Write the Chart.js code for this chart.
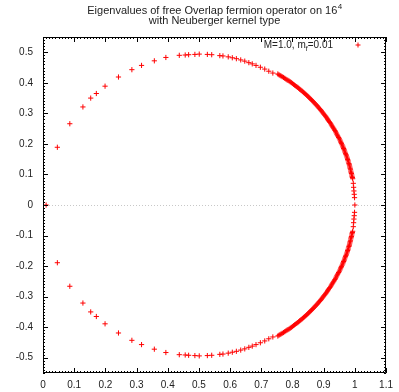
<!DOCTYPE html>
<html>
<head>
<meta charset="utf-8">
<script src="https://cdn.jsdelivr.net/npm/chart.js@4/dist/chart.umd.min.js"></script>
<style>
  html, body { margin: 0; padding: 0; background: #fff; }
  #wrap { width: 399px; height: 392px; }
</style>
</head>
<body>
<div id="wrap"><canvas id="c" width="399" height="392"></canvas></div>
<script>
// Overlap operator eigenvalues (Re, Im), lying on a circle centred near 0.5
const sparseX   = [0.046,0.086,0.128,0.153,0.171,0.199,0.242,0.285,0.316,0.357,0.394,0.437,0.456,0.467,0.487,0.501,
                   0.527,0.541,0.567,0.577,0.594,0.607,0.620,0.634,0.647,0.660,0.671,0.683,0.697,0.711,0.724,0.737];
const sparseUpY = [0.189,0.266,0.321,0.350,0.365,0.389,0.419,0.443,0.457,0.472,0.483,0.490,0.491,0.492,0.493,0.494,
                   0.493,0.492,0.489,0.488,0.485,0.482,0.479,0.475,0.471,0.466,0.462,0.457,0.451,0.445,0.438,0.432];
const sparseLoY = [-0.189,-0.266,-0.321,-0.350,-0.365,-0.389,-0.419,-0.443,-0.457,-0.472,-0.483,-0.490,-0.491,-0.492,-0.493,-0.494,
                   -0.493,-0.492,-0.489,-0.488,-0.485,-0.482,-0.479,-0.475,-0.471,-0.466,-0.462,-0.457,-0.451,-0.445,-0.438,-0.432];

const denseX   = [0.753,0.760,0.767,0.775,0.782,0.789,0.796,0.803,0.810,0.817,0.823,0.830,0.836,0.843,0.849,0.855,0.861,0.867,0.873,0.879,
                  0.884,0.890,0.895,0.900,0.906,0.911,0.915,0.920,0.925,0.929,0.934,0.938,0.942,0.946,0.950,0.954,0.957,0.961,0.964,0.967,
                  0.970,0.973,0.976,0.978,0.981,0.983,0.985,0.987,0.989,0.991,0.993,0.995,0.996,0.997,0.998,0.999];
const denseUpY = [0.429,0.424,0.420,0.415,0.410,0.406,0.401,0.395,0.390,0.385,0.379,0.374,0.368,0.362,0.356,0.350,0.344,0.338,0.331,0.325,
                  0.318,0.312,0.305,0.298,0.291,0.284,0.277,0.270,0.262,0.255,0.248,0.240,0.232,0.225,0.217,0.209,0.201,0.193,0.185,0.177,
                  0.169,0.161,0.153,0.145,0.136,0.128,0.120,0.111,0.103,0.094,0.086,0.071,0.058,0.046,0.035,0.024];
const denseLoY = [-0.429,-0.424,-0.420,-0.415,-0.410,-0.406,-0.401,-0.395,-0.390,-0.385,-0.379,-0.374,-0.368,-0.362,-0.356,-0.350,-0.344,-0.338,-0.331,-0.325,
                  -0.318,-0.312,-0.305,-0.298,-0.291,-0.284,-0.277,-0.270,-0.262,-0.255,-0.248,-0.240,-0.232,-0.225,-0.217,-0.209,-0.201,-0.193,-0.185,-0.177,
                  -0.169,-0.161,-0.153,-0.145,-0.136,-0.128,-0.120,-0.111,-0.103,-0.094,-0.086,-0.071,-0.058,-0.046,-0.035,-0.024];

// further eigenvalues packed between the ones above, along the right-hand arc
const packedX   = [0.7565,0.7635,0.771,0.7785,0.7855,0.7925,0.7995,0.8065,0.8135,0.820,0.8265,0.833,0.8395,0.846,0.852,0.858,0.864,
                   0.870,0.876,0.8815,0.887,0.8925,0.8975,0.903,0.9085,0.913,0.9175,0.9225,0.927,0.9315,0.936,0.940,0.944,0.948,
                   0.952,0.9555,0.959,0.9625,0.9655,0.9685,0.9715,0.9745,0.977,0.9795,0.982,0.984,0.986,0.988,0.990,0.992];
const packedUpY = [0.4265,0.422,0.4175,0.4125,0.408,0.4035,0.398,0.3925,0.3875,0.382,0.3765,0.371,0.365,0.359,0.353,0.347,0.341,
                   0.3345,0.328,0.3215,0.315,0.3085,0.3015,0.2945,0.2875,0.2805,0.2735,0.266,0.2585,0.2515,0.244,0.236,0.2285,0.221,
                   0.213,0.205,0.197,0.189,0.181,0.173,0.165,0.157,0.149,0.1405,0.132,0.124,0.1155,0.107,0.0985,0.090];
const packedLoY = [-0.4265,-0.422,-0.4175,-0.4125,-0.408,-0.4035,-0.398,-0.3925,-0.3875,-0.382,-0.3765,-0.371,-0.365,-0.359,-0.353,-0.347,-0.341,
                   -0.3345,-0.328,-0.3215,-0.315,-0.3085,-0.3015,-0.2945,-0.2875,-0.2805,-0.2735,-0.266,-0.2585,-0.2515,-0.244,-0.236,-0.2285,-0.221,
                   -0.213,-0.205,-0.197,-0.189,-0.181,-0.173,-0.165,-0.157,-0.149,-0.1405,-0.132,-0.124,-0.1155,-0.107,-0.0985,-0.090];

const realX = [0.01, 1.0];
const realY = [0, 0];

const xTicks = [0,0.1,0.2,0.3,0.4,0.5,0.6,0.7,0.8,0.9,1.0,1.1];
const xTickLabels = ['0','0.1','0.2','0.3','0.4','0.5','0.6','0.7','0.8','0.9','1','1.1'];
const yTicks = [-0.5,-0.4,-0.3,-0.2,-0.1,0,0.1,0.2,0.3,0.4,0.5];
const yTickLabels = ['-0.5','-0.4','-0.3','-0.2','-0.1','0','0.1','0.2','0.3','0.4','0.5'];

const titleLines = ['Eigenvalues of free Overlap fermion operator on 16', 'with Neuberger kernel type'];
const titleSup = '4';

const points = [];
const addPairs = (xs, ys) => xs.forEach((x, i) => points.push({ x: x, y: ys[i] }));
addPairs(realX, realY);
addPairs(sparseX, sparseUpY);
addPairs(sparseX, sparseLoY);
addPairs(denseX, denseUpY);
addPairs(denseX, denseLoY);
addPairs(packedX, packedUpY);
addPairs(packedX, packedLoY);

const FONT = '"Liberation Sans", Arial, sans-serif';
const TXT = '#222';

const framePlugin = {
  id: 'frame',
  beforeDatasetsDraw(chart) {
    const { ctx, chartArea: a, scales } = chart;
    const y0 = scales.y.getPixelForValue(0);
    ctx.save();
    ctx.strokeStyle = '#c8c8c8';
    ctx.lineWidth = 1;
    ctx.setLineDash([1, 2]);
    ctx.beginPath();
    ctx.moveTo(a.left, Math.round(y0) + 0.5);
    ctx.lineTo(a.right, Math.round(y0) + 0.5);
    ctx.stroke();
    ctx.restore();
  },
  afterDraw(chart) {
    const { ctx, chartArea: a, scales } = chart;
    const sx = scales.x, sy = scales.y;
    ctx.save();
    ctx.strokeStyle = '#000';
    ctx.lineWidth = 1;
    ctx.beginPath();
    ctx.rect(Math.round(a.left) + 0.5, Math.round(a.top) + 0.5,
             Math.round(a.right - a.left) - 1, Math.round(a.bottom - a.top) - 1);
    ctx.stroke();

    // inward ticks on all four sides: majors every 0.1, minors every 0.01
    ctx.beginPath();
    for (let i = 0; i <= 110; i++) {
      const px = Math.round(sx.getPixelForValue(i / 100)) + 0.5;
      const len = (i % 10 === 0) ? 5 : 2;
      ctx.moveTo(px, a.bottom); ctx.lineTo(px, a.bottom - len);
      ctx.moveTo(px, a.top); ctx.lineTo(px, a.top + len);
    }
    for (let i = -55; i <= 55; i++) {
      const py = Math.round(sy.getPixelForValue(i / 100)) + 0.5;
      const len = (i % 10 === 0) ? 5 : 2;
      ctx.moveTo(a.left, py); ctx.lineTo(a.left + len, py);
      ctx.moveTo(a.right, py); ctx.lineTo(a.right - len, py);
    }
    ctx.stroke();

    // title with superscript
    ctx.fillStyle = TXT;
    ctx.textBaseline = 'alphabetic';
    ctx.font = '11px ' + FONT;
    const cx = (a.left + a.right) / 2;
    const w1 = ctx.measureText(titleLines[0]).width;
    ctx.font = '8px ' + FONT;
    const ws = ctx.measureText(titleSup).width;
    const start1 = cx - (w1 + ws) / 2;
    ctx.font = '11px ' + FONT;
    ctx.textAlign = 'left';
    ctx.fillText(titleLines[0], start1, 14);
    ctx.font = '8px ' + FONT;
    ctx.fillText(titleSup, start1 + w1 + 0.5, 9);
    ctx.font = '11px ' + FONT;
    ctx.textAlign = 'center';
    ctx.fillText(titleLines[1], cx, 24);

    // key: label with subscript, then a sample marker
    ctx.textAlign = 'left';
    const parts = [['M=1.0, m', 10, 0], ['f', 7, 3], ['=0.01', 10, 0]];
    let widthSum = 0;
    parts.forEach(p => { ctx.font = p[1] + 'px ' + FONT; widthSum += ctx.measureText(p[0]).width; });
    let tx = 333 - widthSum;
    const ty = 48;
    parts.forEach(p => {
      ctx.font = p[1] + 'px ' + FONT;
      ctx.fillText(p[0], tx, ty + p[2]);
      tx += ctx.measureText(p[0]).width;
    });
    ctx.strokeStyle = '#ff0000';
    ctx.beginPath();
    ctx.moveTo(355.5, 45); ctx.lineTo(360.5, 45);
    ctx.moveTo(358, 42.5); ctx.lineTo(358, 47.5);
    ctx.stroke();
    ctx.restore();
  }
};

new Chart(document.getElementById('c'), {
  type: 'scatter',
  data: {
    datasets: [{
      label: 'M=1.0, m_f=0.01',
      data: points,
      pointStyle: 'cross',
      pointRadius: 2.6,
      pointHoverRadius: 2.6,
      borderColor: '#ff0000',
      backgroundColor: '#ff0000',
      pointBorderWidth: 1
    }]
  },
  options: {
    responsive: false,
    animation: false,
    events: [],
    layout: { padding: { top: 37, right: 11, left: 0, bottom: 0 } },
    plugins: { legend: { display: false }, title: { display: false }, tooltip: { enabled: false } },
    scales: {
      x: {
        type: 'linear', min: 0, max: 1.1,
        afterBuildTicks: s => { s.ticks = xTicks.map(v => ({ value: v })); },
        afterFit: s => { s.height = 19; },
        grid: { display: false, drawTicks: false },
        border: { display: false },
        ticks: {
          padding: 6, maxRotation: 0, autoSkip: false,
          color: TXT, font: { family: FONT, size: 10 },
          callback: (v, i) => xTickLabels[i]
        }
      },
      y: {
        type: 'linear', min: -0.55, max: 0.55,
        afterBuildTicks: s => { s.ticks = yTicks.map(v => ({ value: v })); },
        afterFit: s => { s.width = 43; },
        grid: { display: false, drawTicks: false },
        border: { display: false },
        ticks: {
          padding: 10, autoSkip: false,
          color: TXT, font: { family: FONT, size: 10 },
          callback: (v, i) => yTickLabels[i]
        }
      }
    }
  },
  plugins: [framePlugin]
});
</script>
</body>
</html>
